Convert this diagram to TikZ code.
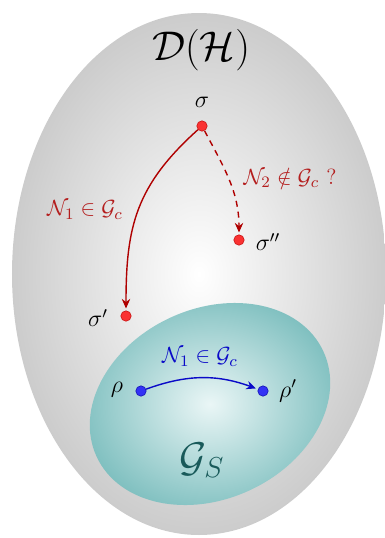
\documentclass[tikz,border=0pt]{standalone}
\usetikzlibrary{arrows.meta,shapes.geometric}
\definecolor{outerg}{RGB}{204,204,204}
\definecolor{tealout}{RGB}{124,190,190}
\definecolor{tealin}{RGB}{234,246,246}
\definecolor{dotred}{RGB}{250,50,50}
\definecolor{dotredd}{RGB}{200,20,20}
\definecolor{arrred}{RGB}{175,0,0}
\definecolor{labred}{RGB}{180,30,30}
\definecolor{dotblue}{RGB}{50,50,245}
\definecolor{dotblued}{RGB}{20,20,180}
\definecolor{arrblue}{RGB}{10,10,200}
\definecolor{gsteal}{RGB}{25,90,90}
\begin{document}
\begin{tikzpicture}[x=0.5pt,y=0.5pt,
  reddot/.style={circle,fill=dotred,draw=dotredd,line width=0.3pt,inner sep=0pt,minimum size=5.2pt},
  bluedot/.style={circle,fill=dotblue,draw=dotblued,line width=0.3pt,inner sep=0pt,minimum size=5.2pt},
  statelab/.style={font=\fontsize{12}{14}\selectfont},
  chanlab/.style={font=\fontsize{11}{13}\selectfont},
  redarr/.style={draw=arrred,line width=0.7pt,-{Stealth[length=4.8pt,width=4.2pt]},shorten >=1pt},
  bluearr/.style={draw=arrblue,line width=0.7pt,-{Stealth[length=4.8pt,width=4.2pt]},shorten >=1pt}
]
\useasboundingbox (0,0) rectangle (385,-538);
% outer set
\shade[inner color=white,outer color=outerg] (199,-274) ellipse (187 and 261);
% inner set
\shade[shift={(210,-404)},rotate=25,inner color=tealin,outer color=tealout] (0,0) ellipse (125 and 95);

\node (DH) at (201,-50) {\huge$\mathcal{D}(\mathcal{H})$};
\node[text=gsteal] (GS) at (202,-460) {\huge$\mathcal{G}_S$};

\node[reddot] (s) at (202,-126) {};
\node[reddot] (s2) at (239,-240) {};
\node[reddot] (s1) at (126,-316) {};
\node[bluedot] (r) at (141,-391) {};
\node[bluedot] (r1) at (263,-391) {};

\node[statelab] (ls) at (202,-102) {$\sigma$};
\node[statelab] (ls2) at (268,-242) {$\sigma''$};
\node[statelab] (ls1) at (98,-318) {$\sigma'$};
\node[statelab] (lr) at (117,-390) {$\rho$};
\node[statelab] (lr1) at (288,-391) {$\rho'$};

\draw[redarr] (s) to[out=222,in=90,looseness=1.1] (s1);
\draw[redarr,dashed,dash pattern=on 3pt off 2.5pt] (s) to[out=-62,in=90] (s2);
\draw[bluearr] (r) to[bend left=20] (r1);

\node[chanlab,text=labred] (n1) at (85,-210) {$\mathcal{N}_1\in\mathcal{G}_c$};
\node[chanlab,text=labred] (n2) at (290,-178) {$\mathcal{N}_2\notin\mathcal{G}_c$ ?};
\node[chanlab,text=arrblue] (n1b) at (200,-357) {$\mathcal{N}_1\in\mathcal{G}_c$};
\end{tikzpicture}
\end{document}
